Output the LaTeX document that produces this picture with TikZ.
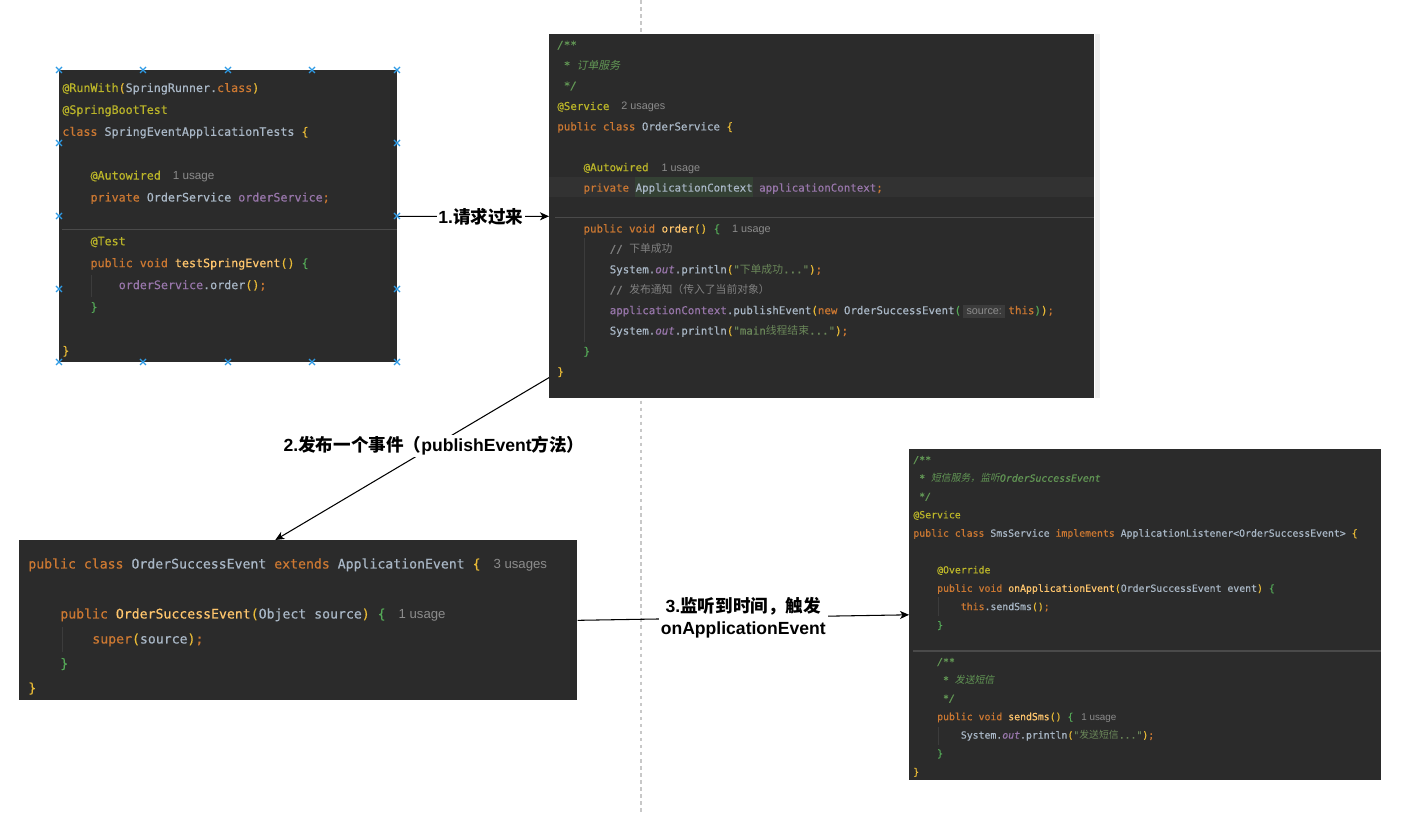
\documentclass[tikz,border=0pt]{standalone}
\usepackage{fontspec}
\setmonofont[FakeBold=0.5]{DejaVu Sans Mono}
\newfontfamily\cjk[ItalicFont={Noto Sans CJK SC}, ItalicFeatures={FakeSlant=0.2}]{Noto Sans CJK SC}
\newfontfamily\lblfont{Liberation Sans}
\newfontfamily\hintfont{Liberation Sans}
\usetikzlibrary{arrows.meta, positioning, calc}
\usepackage{xcolor}
\definecolor{ideabg}{HTML}{2B2B2B}
\definecolor{codefg}{HTML}{A9B7C6}
\definecolor{kwc}{HTML}{CC7832}
\definecolor{anc}{HTML}{BBB529}
\definecolor{fnc}{HTML}{FFC66D}
\definecolor{fdc}{HTML}{9876AA}
\definecolor{cmc}{HTML}{808080}
\definecolor{dcc}{HTML}{629755}
\definecolor{stc}{HTML}{6A8759}
\definecolor{byc}{HTML}{E8BA36}
\definecolor{bgc}{HTML}{54A857}
\definecolor{hintc}{HTML}{8C8C8C}
\definecolor{hintbg}{HTML}{3B3B3B}
\definecolor{rowhl}{HTML}{323232}
\definecolor{boxhl}{HTML}{344134}
\definecolor{sepc}{HTML}{4A4A4A}
\definecolor{guidec}{HTML}{3C3C3C}
\definecolor{handlec}{HTML}{2E9BE6}
\definecolor{stripc}{HTML}{EEEEEE}
\definecolor{divc}{HTML}{C8C8C8}
% syntax colours
\newcommand{\zh}[1]{{\cjk #1}}
\newcommand{\kw}[1]{\textcolor{kwc}{#1}}
\newcommand{\an}[1]{\textcolor{anc}{#1}}
\newcommand{\fn}[1]{\textcolor{fnc}{#1}}
\newcommand{\fd}[1]{\textcolor{fdc}{#1}}
\newcommand{\cm}[1]{\textcolor{cmc}{#1}}
\newcommand{\dc}[1]{{\color{dcc}\itshape #1}}
\newcommand{\st}[1]{\textcolor{stc}{#1}}
\newcommand{\by}[1]{\textcolor{byc}{#1}}
\newcommand{\bg}[1]{\textcolor{bgc}{#1}}
\newcommand{\hint}[1]{{\hintfont\color{hintc}#1}}
\newcommand{\srcbox}[1]{{\setlength{\fboxsep}{0.07cm}\colorbox{hintbg}{\hint{#1}}}}

\begin{document}
\begin{tikzpicture}[x=0.02cm, y=-0.02cm,
    panel/.style={rectangle, fill=ideabg, inner sep=0, anchor=north west},
    codeA/.style={anchor=base west, inner sep=0, text=codefg,
                  font=\ttfamily\fontsize{6.65}{8}\selectfont},
    codeB/.style={codeA, font=\ttfamily\fontsize{6.15}{8}\selectfont},
    codeC/.style={codeA, font=\ttfamily\fontsize{7.5}{9}\selectfont},
    codeD/.style={codeA, font=\ttfamily\fontsize{5.6}{7}\selectfont},
    sepline/.style={draw=sepc, line width=0.6pt},
    guide/.style={draw=guidec, line width=0.5pt},
    handle/.style={draw=handlec, line width=0.7pt},
    divider/.style={draw=divc, line width=0.6pt, dash pattern=on 2pt off 2pt},
    lbl/.style={fill=white, inner sep=1pt, align=center,
                font=\lblfont\bfseries\fontsize{10}{12.3}\selectfont},
    arr/.style={-{Stealth[length=1.8mm, width=1.6mm, inset=0.5mm]}, line width=0.6pt}
]
    \useasboundingbox (0,0) rectangle (1406,813);
    \fill[white] (0,0) rectangle (1406,813);
    \draw[divider] (641,0) -- (641,813);

    % code panels
    \node[panel, minimum width=6.76cm,  minimum height=5.84cm] (test)  at (59,70)   {};
    \node[panel, minimum width=10.9cm,  minimum height=7.28cm] (order) at (549,34)  {};
    \node[panel, minimum width=11.16cm, minimum height=3.2cm]  (event) at (19,540)  {};
    \node[panel, minimum width=9.44cm,  minimum height=6.62cm] (sms)   at (909,449) {};
    \fill[stripc] (order.north east) rectangle ++(5,364);

    \fill[rowhl] (549,177) rectangle (1094,197);
    \fill[boxhl] (635,177) rectangle (753,197);
    \draw[sepline] (62,229.5) -- (397,229.5);
    \draw[sepline] (555,217.5) -- (1094,217.5);
    \draw[sepline] (913,651) -- (1381,651);
    \draw[guide] (91,275) -- (91,297);
    \draw[guide] (584,238) -- (584,342);
    \draw[guide] (62,627) -- (62,652);
    \draw[guide] (938,597) -- (938,616);
    \draw[guide] (938,727) -- (938,745);

    % SpringEventApplicationTests
    \node[codeA] (t1)  at (62,92)      {\an{@RunWith}\by{(}SpringRunner.\kw{class}\by{)}};
    \node[codeA] (t2)  at (62,113.9)   {\an{@SpringBootTest}};
    \node[codeA] (t3)  at (62,135.8)   {\kw{class} SpringEventApplicationTests \by{\{}};
    \node[codeA] (t4)  at (90.2,179.6) {\an{@Autowired}\hspace{0.24cm}\hint{1 usage}};
    \node[codeA] (t5)  at (90.2,201.5) {\kw{private} OrderService \fd{orderService}\kw{;}};
    \node[codeA] (t6)  at (90.2,245.3) {\an{@Test}};
    \node[codeA] (t7)  at (90.2,267.2) {\kw{public void} \fn{testSpringEvent}\by{()} \bg{\{}};
    \node[codeA] (t8)  at (118.4,289.1) {\fd{orderService}.order\by{()}\kw{;}};
    \node[codeA] (t9)  at (90.2,311)   {\bg{\}}};
    \node[codeA] (t10) at (62,354.8)   {\by{\}}};

    % OrderService
    \node[codeB] (o1)  at (557,48.7)   {\dc{/**}};
    \node[codeB] (o2)  at (563.5,69.1) {\dc{* \zh{订单服务}}};
    \node[codeB] (o3)  at (563.5,89.5) {\dc{*/}};
    \node[codeB] (o4)  at (557,110)    {\an{@Service}\hspace{0.24cm}\hint{2 usages}};
    \node[codeB] (o5)  at (557,130.4)  {\kw{public class} OrderService \by{\{}};
    \node[codeB] (o6)  at (583.2,171.2) {\an{@Autowired}\hspace{0.26cm}\hint{1 usage}};
    \node[codeB] (o7)  at (583.2,191.6) {\kw{private} ApplicationContext \fd{applicationContext}\kw{;}};
    \node[codeB] (o8)  at (583.2,232.5) {\kw{public void} \fn{order}\by{()} \bg{\{}\hspace{0.24cm}\hint{1 usage}};
    \node[codeB] (o9)  at (609.4,252.9) {\cm{// \zh{下单成功}}};
    \node[codeB] (o10) at (609.4,273.3) {System.\fd{\itshape out}.println\by{(}\st{"\zh{下单成功}..."}\by{)}\kw{;}};
    \node[codeB] (o11) at (609.4,293.7) {\cm{// \zh{发布通知（传入了当前对象）}}};
    \node[codeB] (o12) at (609.4,314.2) {\fd{applicationContext}.publishEvent\by{(}\kw{new} OrderSuccessEvent\bg{(}\hspace{0.04cm}\srcbox{source:}\hspace{0.06cm}\kw{this}\bg{)}\by{)}\kw{;}};
    \node[codeB] (o13) at (609.4,334.6) {System.\fd{\itshape out}.println\by{(}\st{"main\zh{线程结束}..."}\by{)}\kw{;}};
    \node[codeB] (o14) at (583.2,355)  {\bg{\}}};
    \node[codeB] (o15) at (557,375.4)  {\by{\}}};

    % OrderSuccessEvent
    \node[codeC] (e1) at (28,568.5) {\kw{public class} OrderSuccessEvent \kw{extends} ApplicationEvent \by{\{}\hspace{0.26cm}\hint{3 usages}};
    \node[codeC] (e2) at (60,618.5) {\kw{public} \fn{OrderSuccessEvent}\by{(}Object source\by{)} \bg{\{}\hspace{0.26cm}\hint{1 usage}};
    \node[codeC] (e3) at (92,643.5) {\kw{super}\by{(}source\by{)}\kw{;}};
    \node[codeC] (e4) at (60,668)   {\bg{\}}};
    \node[codeC] (e5) at (28,692.5) {\by{\}}};

    % SmsService
    \node[codeD] (s1)  at (913,463.3)   {\dc{/**}};
    \node[codeD] (s2)  at (918.9,481.7) {\dc{* \zh{短信服务，监听}OrderSuccessEvent}};
    \node[codeD] (s3)  at (918.9,500)   {\dc{*/}};
    \node[codeD] (s4)  at (913,518.3)   {\an{@Service}};
    \node[codeD] (s5)  at (913,536.7)   {\kw{public class} SmsService \kw{implements} ApplicationListener<OrderSuccessEvent> \by{\{}};
    \node[codeD] (s6)  at (936.8,573.4) {\an{@Override}};
    \node[codeD] (s7)  at (936.8,591.8) {\kw{public void} \fn{onApplicationEvent}\by{(}OrderSuccessEvent event\by{)} \bg{\{}};
    \node[codeD] (s8)  at (960.5,610.1) {\kw{this}.sendSms\by{()}\kw{;}};
    \node[codeD] (s9)  at (936.8,628.5) {\bg{\}}};
    \node[codeD] (s10) at (936.8,665.2) {\dc{/**}};
    \node[codeD] (s11) at (942.7,683.5) {\dc{* \zh{发送短信}}};
    \node[codeD] (s12) at (942.7,701.9) {\dc{*/}};
    \node[codeD] (s13) at (936.8,720.2) {\kw{public void} \fn{sendSms}\by{()} \bg{\{}\hspace{0.16cm}\hint{1 usage}};
    \node[codeD] (s14) at (960.5,738.6) {System.\fd{\itshape out}.println\by{(}\st{"\zh{发送短信}..."}\by{)}\kw{;}};
    \node[codeD] (s15) at (936.8,756.9) {\bg{\}}};
    \node[codeD] (s16) at (913,775.3)   {\by{\}}};

    % flow
    \draw[arr] (test.east) -- node[lbl, pos=0.55] (lab1) {1.\zh{请求过来}} (order.west);
    \draw[arr] ([yshift=0.42cm]order.south west) -- node[lbl, pos=0.42] (lab2) {2.\zh{发布一个事件（}publishEvent\zh{方法）}} ([xshift=-0.46cm]event.north);
    \draw[arr] (event.east) -- node[lbl, pos=0.5] (lab3) {3.\zh{监听到时间，触发}\\onApplicationEvent} (sms.west);

    % selection handles
    \foreach \hx/\hy in {59/70,143/70,228/70,312/70,397/70,59/362,143/362,228/362,312/362,397/362,
                         59/143,59/216,59/289,397/143,397/216,397/289}
        \draw[handle] (\hx-3,\hy-3) -- (\hx+3,\hy+3) (\hx-3,\hy+3) -- (\hx+3,\hy-3);
\end{tikzpicture}
\end{document}
